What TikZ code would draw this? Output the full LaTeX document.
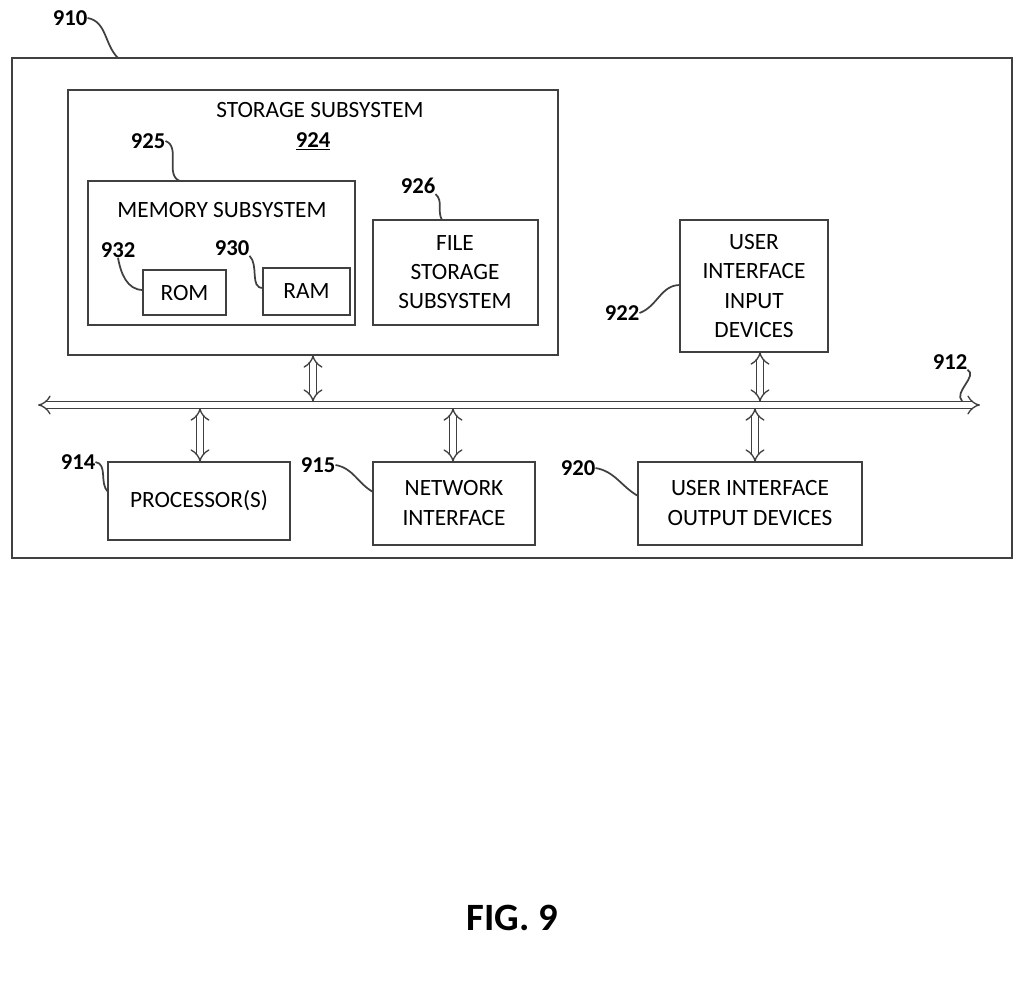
\documentclass[tikz,border=0pt]{standalone}
\usepackage{fontspec}
\setmainfont{Carlito}
\usetikzlibrary{arrows.meta}
\begin{document}
\begin{tikzpicture}[x=0.75pt,y=-0.75pt,
        font=\fontsize{17.5}{22}\selectfont,
        box/.style={draw=black!75,line width=1.8pt},
        txt/.style={align=center,inner sep=0pt},
        num/.style={font=\fontsize{17}{20}\selectfont\bfseries,inner sep=0pt},
        lead/.style={draw=black!75,line width=1.3pt},
        bus/.style={draw=black!75,double,double distance=4pt,line width=1pt,{Implies[length=6pt,width=10pt]}-{Implies[length=6pt,width=10pt]}}]
    \useasboundingbox (0,0) rectangle (1024,996);

    % boxes
    \draw[box] (12,58) rectangle (1012,558);
    \draw[box] (68,90) rectangle (558,355);
    \draw[box] (88,181) rectangle (355,325);
    \draw[box] (143,270) rectangle (226,315);
    \draw[box] (263,268) rectangle (350,315);
    \draw[box] (373,220) rectangle (538,325);
    \draw[box] (680,220) rectangle (828,352);
    \draw[box] (108,462) rectangle (290,540);
    \draw[box] (373,462) rectangle (535,545);
    \draw[box] (638,462) rectangle (862,545);

    % texts
    \node[txt] (stor) at (320,110) {STORAGE SUBSYSTEM};
    \node[num] (n924) at (313,141) {\underline{924}};
    \node[txt] (mem) at (222,210) {MEMORY SUBSYSTEM};
    \node[txt] (rom) at (184.5,293) {ROM};
    \node[txt] (ram) at (306.5,291) {RAM};
    \node[txt] (file) at (455,272) {FILE\\STORAGE\\SUBSYSTEM};
    \node[txt] (uiin) at (754,286) {USER\\INTERFACE\\INPUT\\DEVICES};
    \node[txt] (proc) at (199,501) {PROCESSOR(S)};
    \node[txt] (net) at (454,503) {NETWORK\\INTERFACE};
    \node[txt] (uiout) at (750,503) {USER INTERFACE\\OUTPUT DEVICES};

    % reference numbers
    \node[num] (n910) at (70,18) {910};
    \node[num] (n925) at (148,141) {925};
    \node[num] (n932) at (118,250) {932};
    \node[num] (n930) at (232,248) {930};
    \node[num] (n926) at (418,186) {926};
    \node[num] (n922) at (622,313) {922};
    \node[num] (n912) at (950,362) {912};
    \node[num] (n914) at (78,462) {914};
    \node[num] (n915) at (318,465) {915};
    \node[num] (n920) at (578,468) {920};

    \coordinate (e910) at (118,58);
    \coordinate (e925) at (180,181);
    \coordinate (e932) at (143,290);
    \coordinate (e930) at (263,288);
    \coordinate (e926) at (442,220);
    \coordinate (e922) at (680,285);
    \coordinate (e912) at (962,401);
    \coordinate (e914) at (108,492);
    \coordinate (e915) at (373,492);
    \coordinate (e920) at (638,496);

    \draw[lead] (n910.east) to[out=-10,in=135] (e910);
    \draw[lead] (n925.east) to[out=-20,in=160] (e925);
    \draw[lead] (n932.south) to[out=-80,in=180] (e932);
    \draw[lead] (n930.south east) to[out=-45,in=180] (e930);
    \draw[lead] (n926.south east) to[out=-40,in=120] (e926);
    \draw[lead] (n922.east) to[out=20,in=180] (e922);
    \draw[lead] (n912.south east) to[out=-30,in=135] (e912);
    \draw[lead] (n914.east) to[out=-10,in=135] (e914);
    \draw[lead] (n915.east) to[out=-10,in=150] (e915);
    \draw[lead] (n920.east) to[out=-10,in=150] (e920);

    % bus and links
    \coordinate (bl) at (38,405);
    \coordinate (br) at (980,405);
    \draw[bus] (bl) -- (br);
    \draw[bus] (313,355) -- (313,402);
    \draw[bus] (760,352) -- (760,402);
    \draw[bus] (200,408) -- (200,462);
    \draw[bus] (453,408) -- (453,462);
    \draw[bus] (755,408) -- (755,462);

    \node[font=\fontsize{29}{32}\selectfont\bfseries] (fig) at (512,918) {FIG. 9};
\end{tikzpicture}
\end{document}
